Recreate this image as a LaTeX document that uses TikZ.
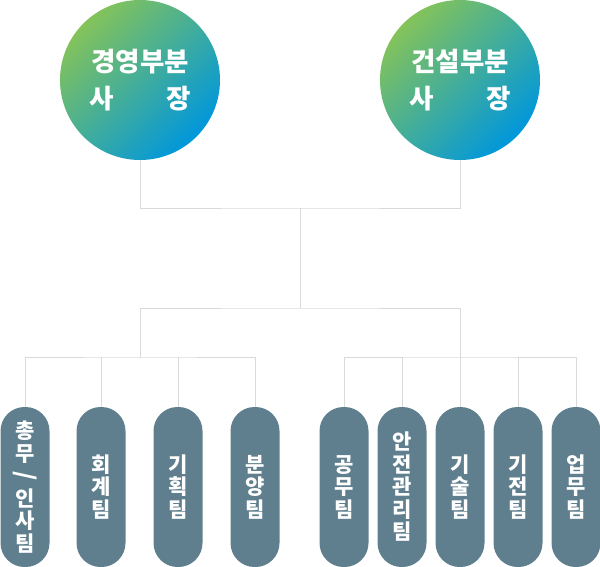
\documentclass[tikz,border=0pt]{standalone}
\usepackage{graphicx}
\usepackage{fontspec}
\setmainfont{Noto Sans CJK KR}
\usepackage{tikz}
\definecolor{teamgray}{HTML}{5F7F8E}
\definecolor{linegray}{HTML}{D9D9D9}
\definecolor{headgreen}{HTML}{84C35A}
\definecolor{headblue}{HTML}{0097DC}
\tikzstyle{line} = [draw=linegray,line width=1pt]
\tikzstyle{head} = [circle,minimum size=160pt,inner sep=0pt,top color=headgreen,bottom color=headblue,shading angle=45,text=white,align=center,font=\fontsize{26.5}{37}\selectfont\bfseries]
\tikzstyle{team} = [rectangle,rounded corners=24pt,minimum width=49pt,minimum height=160pt,inner sep=0pt,fill=teamgray,text=white,align=center,font=\fontsize{21}{22.5}\selectfont\bfseries]

\begin{document}
\begin{tikzpicture}[x=1pt,y=-1pt]
          \useasboundingbox (0,0) rectangle (600,567);
          \node[head] at (140,80) (H1) {경영부분\\사\hspace{2em}장};
          \node[head] at (460,80) (H2) {건설부분\\사\hspace{2em}장};

          \node[team] at (25,487) (T1) {총\\무\\\rotatebox[origin=c]{270}{\fontsize{24}{24}\selectfont /}\\인\\사\\팀};
          \node[team] at (101,487) (T2) {회\\계\\팀};
          \node[team] at (178,487) (T3) {기\\획\\팀};
          \node[team] at (255,487) (T4) {분\\양\\팀};
          \node[team] at (344,487) (T5) {공\\무\\팀};
          \node[team] at (402,487) (T6) {안\\전\\관\\리\\팀};
          \node[team] at (460,487) (T7) {기\\술\\팀};
          \node[team] at (518,487) (T8) {기\\전\\팀};
          \node[team] at (576,487) (T9) {업\\무\\팀};

          \coordinate (J1) at (300,208);
          \coordinate (J2) at (300,308);
          \coordinate (B1) at (140,357);
          \coordinate (B2) at (460,357);

          \draw[line] (H1) |- (J1) -| (H2);
          \draw[line] (J1) -- (J2);
          \draw[line] (B1) |- (J2) -| (B2);
          \draw[line] (T1) |- (B1) -| (T4);
          \draw[line] (T5) |- (B2) -| (T9);
          \foreach \t in {T2,T3,T6,T7,T8}
            \draw[line] (\t) -- (\t |- B1);
        \end{tikzpicture}
\end{document}
